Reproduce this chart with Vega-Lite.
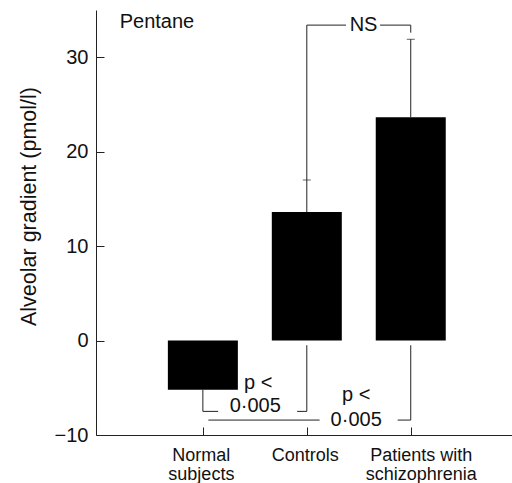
{
  "$schema": "https://vega.github.io/schema/vega-lite/v6.json",
  "width": 416,
  "height": 425,
  "autosize": {"type": "none"},
  "padding": {"left": 96, "top": 10, "right": 0, "bottom": 48},
  "config": {"view": {"stroke": null}, "font": "Liberation Sans"},
  "datasets": {
    "bars": [
      {"group": "Normal subjects", "x": 1, "y": -5.2, "err": -7.5},
      {"group": "Controls", "x": 2, "y": 13.6, "err": 17.0},
      {"group": "Patients with schizophrenia", "x": 3, "y": 23.65, "err": 31.9}
    ],
    "caps": [
      {"x": 2, "y": 17.0},
      {"x": 3, "y": 31.9}
    ],
    "segments": [
      {"x": 1, "x2": 1, "y": -5.2, "y2": -7.5},
      {"x": 2, "x2": 2, "y": 13.6, "y2": 33.4},
      {"x": 3, "x2": 3, "y": 23.65, "y2": 31.9},
      {"x": 2, "x2": 2.377, "y": 33.4, "y2": 33.4},
      {"x": 2.705, "x2": 3, "y": 33.4, "y2": 33.4},
      {"x": 3, "x2": 3, "y": 33.4, "y2": 32.6},
      {"x": 1, "x2": 1.147, "y": -7.5, "y2": -7.5},
      {"x": 1.907, "x2": 2, "y": -7.5, "y2": -7.5},
      {"x": 2, "x2": 2, "y": -7.5, "y2": -0.5},
      {"x": 1.053, "x2": 2.123, "y": -8.42, "y2": -8.42},
      {"x": 2.874, "x2": 3, "y": -8.42, "y2": -8.42},
      {"x": 3, "x2": 3, "y": -8.42, "y2": -0.5}
    ],
    "labels": [
      {"x": 2.546, "y": 33.4, "text": "NS"},
      {"x": 1.532, "y": -4.45, "text": "p <"},
      {"x": 1.504, "y": -6.89, "text": "0·005"},
      {"x": 2.475, "y": -5.77, "text": "p <"},
      {"x": 2.475, "y": -8.37, "text": "0·005"}
    ],
    "panel": [
      {"x": 0.2, "y": 33.7, "text": "Pentane"}
    ]
  },
  "layer": [
    {
      "data": {"name": "bars"},
      "mark": {"type": "bar", "color": "#000000", "width": 70, "orient": "vertical"},
      "encoding": {
        "x": {
          "field": "x", "type": "quantitative",
          "scale": {"domain": [0.02, 3.926], "nice": false, "zero": false},
          "axis": {
            "title": null, "values": [1, 2, 3], "grid": false,
            "labelExpr": "datum.value == 1 ? ['Normal', 'subjects'] : datum.value == 2 ? 'Controls' : ['Patients with', 'schizophrenia']",
            "labelFontSize": 18, "labelLineHeight": 19, "labelColor": "#111111",
            "labelBaseline": "top",
            "labelOffset": {"condition": {"test": "datum.value == 3", "value": 10}, "value": -2},
            "domainColor": "#222222", "tickColor": "#222222",
            "tickSize": -8, "labelPadding": 19
          }
        },
        "y": {
          "field": "y", "type": "quantitative",
          "scale": {"domain": [-10, 35], "nice": false, "zero": false},
          "axis": {
            "title": "Alveolar gradient (pmol/l)", "values": [-10, 0, 10, 20, 30], "grid": false,
            "labelFontSize": 20, "labelColor": "#111111",
            "titleFontSize": 21.5, "titleFontWeight": "normal", "titleColor": "#111111",
            "titleX": -67, "titleY": 196, "titleAngle": -90, "titleAlign": "center", "titleBaseline": "middle",
            "domainColor": "#222222", "tickColor": "#222222",
            "tickSize": -8, "labelPadding": 16
          }
        },
        "y2": {"datum": 0}
      }
    },
    {
      "mark": {"type": "rule", "color": "#333333", "strokeWidth": 1},
      "encoding": {"y": {"datum": 0, "type": "quantitative"}}
    },
    {
      "mark": {"type": "rule", "color": "#333333", "strokeWidth": 1},
      "encoding": {"y": {"datum": 35, "type": "quantitative"}}
    },
    {
      "data": {"name": "segments"},
      "mark": {"type": "rule", "color": "#222222", "strokeWidth": 1},
      "encoding": {
        "x": {"field": "x", "type": "quantitative"},
        "x2": {"field": "x2"},
        "y": {"field": "y", "type": "quantitative"},
        "y2": {"field": "y2"}
      }
    },
    {
      "data": {"name": "caps"},
      "mark": {"type": "tick", "orient": "horizontal", "color": "#222222", "size": 8, "thickness": 1},
      "encoding": {
        "x": {"field": "x", "type": "quantitative"},
        "y": {"field": "y", "type": "quantitative"}
      }
    },
    {
      "data": {"name": "labels"},
      "mark": {"type": "text", "fontSize": 20, "color": "#111111", "align": "center", "baseline": "middle"},
      "encoding": {
        "x": {"field": "x", "type": "quantitative"},
        "y": {"field": "y", "type": "quantitative"},
        "text": {"field": "text"}
      }
    },
    {
      "data": {"name": "panel"},
      "mark": {"type": "text", "fontSize": 20, "color": "#111111", "align": "left", "baseline": "middle"},
      "encoding": {
        "x": {"field": "x", "type": "quantitative"},
        "y": {"field": "y", "type": "quantitative"},
        "text": {"field": "text"}
      }
    }
  ]
}
